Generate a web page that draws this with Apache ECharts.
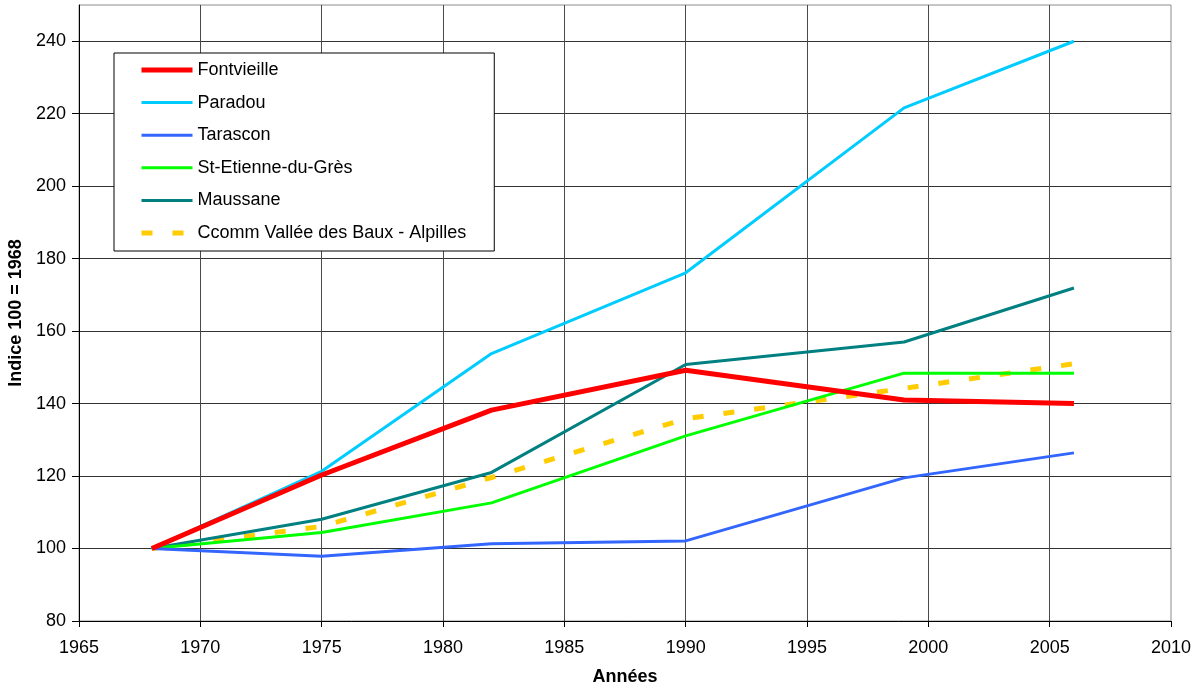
<!DOCTYPE html>
<html>
<head>
<meta charset="utf-8">
<script src="https://cdn.jsdelivr.net/npm/echarts@6/dist/echarts.min.js"></script>
<style>
  html, body { margin: 0; padding: 0; background: #fff; }
  #chart { width: 1198px; height: 689px; }
</style>
</head>
<body>
<div id="chart"></div>
<script>
// Population index (100 = 1968) by commune
const years = [1968, 1975, 1982, 1990, 1999, 2006];
const fontvieille = [100, 120.3, 138.2, 149.2, 141.0, 140.0];
const paradou = [100, 121.3, 153.8, 176.1, 221.6, 240.0];
const tarascon = [100, 97.9, 101.3, 102.1, 119.5, 126.4];
const stEtienne = [100, 104.4, 112.6, 131.1, 148.4, 148.4];
const maussane = [100, 108.1, 121.0, 150.8, 157.0, 171.9];
const ccomm = [100, 106.1, 119.6, 135.8, 144.2, 151.0];
const xTicks = [1965, 1970, 1975, 1980, 1985, 1990, 1995, 2000, 2005, 2010];
const yTicks = [80, 100, 120, 140, 160, 180, 200, 220, 240];

const FONT = '"Liberation Sans", Arial, sans-serif';
const FS = 18;
const pairs = vals => years.map((y, i) => [y, vals[i]]);

const seriesDefs = [
  { name: 'Fontvieille', values: fontvieille, color: '#FF0000', width: 5, z: 8 },
  { name: 'Paradou', values: paradou, color: '#00CCFF', width: 3, z: 7 },
  { name: 'Tarascon', values: tarascon, color: '#3366FF', width: 3, z: 6 },
  { name: 'St-Etienne-du-Grès', values: stEtienne, color: '#00FF00', width: 3, z: 5 },
  { name: 'Maussane', values: maussane, color: '#008080', width: 3, z: 4 },
  { name: 'Ccomm Vallée des Baux - Alpilles', values: ccomm, color: '#FFCC00', width: 5, z: 3, dash: [11, 20] }
];

const chart = echarts.init(document.getElementById('chart'), null, { renderer: 'canvas' });

chart.setOption({
  animation: false,
  backgroundColor: '#ffffff',
  textStyle: { fontFamily: FONT, color: '#000' },
  grid: {
    left: 79, right: 27, top: 5, bottom: 68,
    containLabel: false, outerBoundsMode: 'none',
    show: true, borderColor: '#8c8c8c', borderWidth: 1, backgroundColor: '#fff'
  },
  legend: {
    show: true,
    left: 114, top: 53,
    orient: 'vertical',
    backgroundColor: '#fff',
    borderColor: '#000', borderWidth: 1,
    padding: [8, 28, 9, 25],
    itemWidth: 51, itemHeight: 16, itemGap: 14.6,
    textStyle: { fontFamily: FONT, fontSize: FS, color: '#000' },
    data: seriesDefs.map(s => ({
      name: s.name,
      itemStyle: { opacity: 0 },
      lineStyle: { color: s.color, width: s.width, type: s.dash ? s.dash : 'solid' }
    }))
  },
  xAxis: {
    type: 'value',
    min: xTicks[0], max: xTicks[xTicks.length - 1], interval: 5,
    name: 'Années', nameLocation: 'middle', nameGap: 47,
    nameTextStyle: { fontFamily: FONT, fontSize: FS, fontWeight: 'bold', color: '#000' },
    axisLine: { show: true, onZero: false, lineStyle: { color: '#000', width: 1 } },
    axisTick: { show: true, length: 6, lineStyle: { color: '#000' } },
    axisLabel: { fontFamily: FONT, fontSize: FS, color: '#000', margin: 18, formatter: v => String(v) },
    splitLine: { show: true, showMinLine: false, showMaxLine: false, lineStyle: { color: '#4a4a4a', width: 1 } }
  },
  yAxis: {
    type: 'value',
    min: yTicks[0], max: 250, interval: 20,
    name: 'Indice 100 = 1968', nameLocation: 'middle', nameRotate: 90, nameGap: 47,
    nameTextStyle: { fontFamily: FONT, fontSize: FS, fontWeight: 'bold', color: '#000' },
    axisLine: { show: true, onZero: false, lineStyle: { color: '#000', width: 1 } },
    axisTick: { show: true, length: 7, lineStyle: { color: '#000' } },
    axisLabel: {
      fontFamily: FONT, fontSize: FS, color: '#000', margin: 13, showMaxLabel: false,
      formatter: v => (yTicks.indexOf(v) >= 0 ? String(v) : '')
    },
    splitLine: { show: true, showMinLine: false, showMaxLine: false, lineStyle: { color: '#333', width: 1 } }
  },
  series: seriesDefs.map(s => ({
    name: s.name,
    type: 'line',
    data: pairs(s.values),
    symbol: 'none',
    z: s.z,
    lineStyle: { color: s.color, width: s.width, type: s.dash ? s.dash : 'solid', cap: 'butt', join: 'round' },
    itemStyle: { color: s.color },
    emphasis: { disabled: true }
  }))
});
</script>
</body>
</html>
